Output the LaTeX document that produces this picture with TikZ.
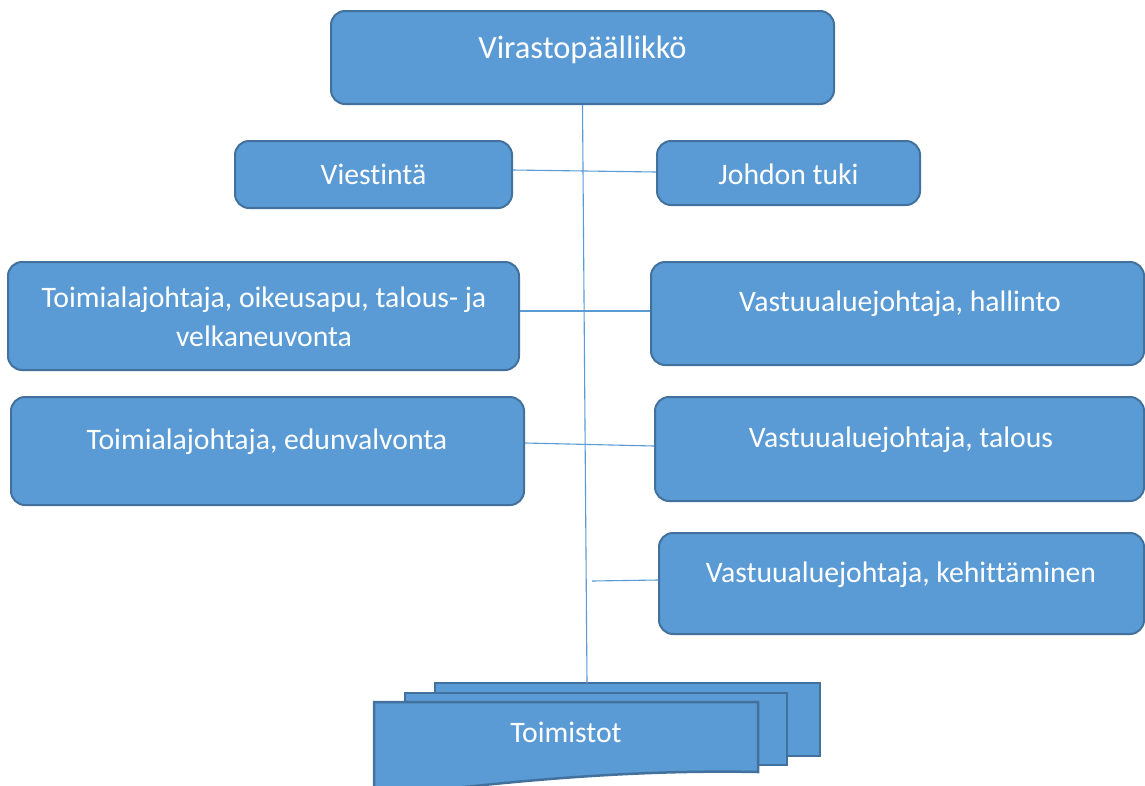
\documentclass[tikz,border=0pt]{standalone}
\usepackage{fontspec}
\setmainfont[Ligatures=NoCommon]{Carlito}
\definecolor{boxfill}{HTML}{5B9BD5}
\definecolor{boxline}{HTML}{41719C}
\definecolor{conn}{HTML}{5B9BD5}
\tikzset{
  orgbox/.style={draw=boxline, fill=boxfill, line width=2pt, rounded corners=14pt, inner sep=0pt},
  docbox/.style={draw=boxline, fill=boxfill, line width=2.5pt, inner sep=0pt},
  lbl/.style={text=white, anchor=base, inner sep=0pt, font=\fontsize{29.7}{40}\selectfont, align=center},
  biglbl/.style={lbl, font=\fontsize{32.5}{40}\selectfont},
  link/.style={draw=conn, line width=1.1pt}
}
\begin{document}
\begin{tikzpicture}[x=1pt,y=-1pt]
\clip (0,0) rectangle (1145,785);
\fill[white] (0,0) rectangle (1145,785);
% boxes
\node[orgbox, minimum width=503pt, minimum height=93pt] (vp) at (582.5,57.5) {};
\node[orgbox, minimum width=277pt, minimum height=67pt] (vi) at (373.5,174.5) {};
\node[orgbox, minimum width=263pt, minimum height=64pt] (jt) at (788.5,173) {};
\node[orgbox, minimum width=511pt, minimum height=108pt] (ta) at (263.5,316) {};
\node[orgbox, minimum width=493pt, minimum height=103pt] (ha) at (897.5,313.5) {};
\node[orgbox, minimum width=513pt, minimum height=108pt] (ed) at (267.5,451) {};
\node[orgbox, minimum width=489pt, minimum height=104pt] (tl) at (899.5,449) {};
\node[orgbox, minimum width=485pt, minimum height=101pt] (ke) at (901.5,583.5) {};
% multidocument
\node[docbox, minimum width=385pt, minimum height=73pt] (d3) at (627.5,719.5) {};
\node[docbox, minimum width=382pt, minimum height=72pt] (d2) at (596,729) {};
\path[docbox] (374,702) coordinate (d1nw) -- (758,702) -- (758,772)
  .. controls (660,770) and (540,776) .. (374,798) -- cycle;
% connector end points
\coordinate (dtop) at (587,683);
\coordinate (kestub) at (592,581);
% connectors
\draw[link] (vp.south) -- (dtop);
\draw[link] ([yshift=4.5pt]vi.east) -- ([yshift=1pt]jt.west);
\draw[link] ([yshift=5pt]ta.east) -- ([yshift=2.5pt]ha.west);
\draw[link] ([yshift=8pt]ed.east) -- ([yshift=3pt]tl.west);
\draw[link] (kestub) -- ([yshift=3.5pt]ke.west);
% labels
\node[biglbl] (t1) at (582.5,58) {Virastopäällikkö};
\node[lbl] (t2) at (373.5,184) {Viestintä};
\node[lbl] (t3) at (788.5,184) {Johdon tuki};
\node[lbl] (t4) at (264,307) {Toimialajohtaja, oikeusapu, talous- ja};
\node[lbl] (t4b) at (264,346) {velkaneuvonta};
\node[lbl] (t5) at (900,311) {Vastuualuejohtaja, hallinto};
\node[lbl] (t6) at (267,449) {Toimialajohtaja, edunvalvonta};
\node[lbl] (t7) at (901,447) {Vastuualuejohtaja, talous};
\node[lbl] (t8) at (901,582) {Vastuualuejohtaja, kehittäminen};
\node[lbl] (t9) at (566,742) {Toimistot};
\end{tikzpicture}
\end{document}
